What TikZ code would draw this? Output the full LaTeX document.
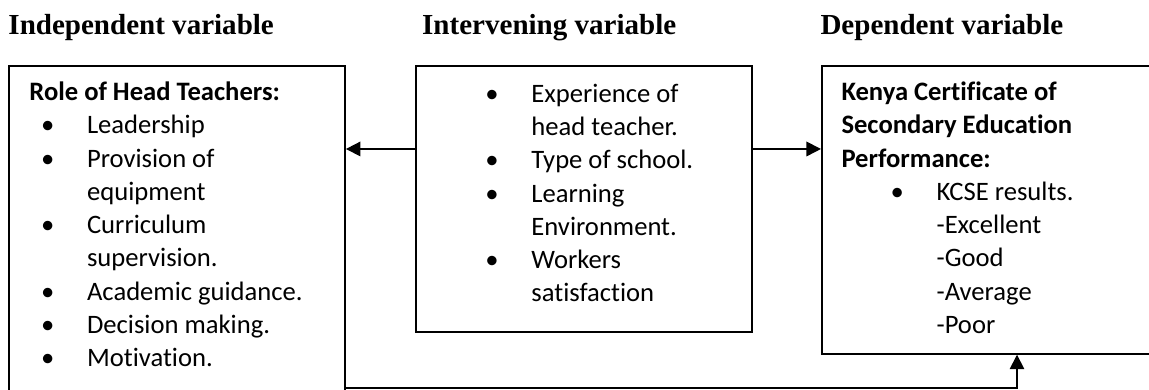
\documentclass[tikz,border=0pt]{standalone}
\usepackage{fontspec}
\setmainfont{Carlito}[Ligatures=NoCommon]
\newfontfamily\headfont{Liberation Serif}
\usetikzlibrary{arrows.meta}

% bullet with its gap to the item text
\newcommand{\bul}{\makebox[19pt][l]{\textbullet}}

\begin{document}
\begin{tikzpicture}[
    varbox/.style={draw, line width=0.8pt, inner sep=0pt, anchor=north west},
    head/.style={anchor=base west, inner sep=0pt, font=\headfont\bfseries\fontsize{12}{14}\selectfont},
    itemlist/.style={anchor=north west, inner sep=0pt, align=left, font=\fontsize{11}{13.76}\selectfont},
    link/.style={line width=0.7pt, -{Triangle[length=6pt,width=6pt]}}
]
    \useasboundingbox (0,0) rectangle (16.688,5.664);
    \clip (0,0) rectangle (16.688,5.664);

    % Titulos de las columnas
    \node[head] (indephead) at (0.116,5.156) {Independent variable};
    \node[head] (intervhead) at (6.125,5.156) {Intervening variable};
    \node[head] (dephead) at (11.910,5.156) {Dependent variable};

    % Cajas de las variables
    \node[varbox, minimum width=4.88cm, minimum height=5.22cm] (indep) at (0.116,4.720) {};
    \node[varbox, minimum width=4.88cm, minimum height=3.86cm] (interv) at (6.027,4.720) {};
    \node[varbox, minimum width=4.88cm, minimum height=4.18cm] (dep) at (11.924,4.720) {};

    % Contenido de las cajas
    \node[itemlist] (indeplist) at (0.421,4.551) {\strut\textbf{Role of Head Teachers:}\\
        \hspace*{4.8pt}\bul Leadership\\
        \hspace*{4.8pt}\bul Provision of\\
        \hspace*{23.8pt}equipment\\
        \hspace*{4.8pt}\bul Curriculum\\
        \hspace*{23.8pt}supervision.\\
        \hspace*{4.8pt}\bul Academic guidance.\\
        \hspace*{4.8pt}\bul Decision making.\\
        \hspace*{4.8pt}\bul Motivation.};

    \node[itemlist] (intervlist) at (7.044,4.526) {\strut\bul Experience of\\
        \hspace*{19pt}head teacher.\\
        \bul Type of school.\\
        \bul Learning\\
        \hspace*{19pt}Environment.\\
        \bul Workers\\
        \hspace*{19pt}satisfaction};

    \node[itemlist] (deplist) at (12.215,4.551) {\strut\textbf{Kenya Certificate of}\\
        \textbf{Secondary Education}\\
        \textbf{Performance:}\\
        \hspace*{20.3pt}\bul KCSE results.\\
        \hspace*{39.3pt}-Excellent\\
        \hspace*{39.3pt}-Good\\
        \hspace*{39.3pt}-Average\\
        \hspace*{39.3pt}-Poor};

    % Flechas entre cajas
    \coordinate (arrowrow) at (0,3.500);
    \draw[link] (interv.west |- arrowrow) -- (indep.east |- arrowrow);
    \draw[link] (interv.east |- arrowrow) -- (dep.west |- arrowrow);
    \draw[link] (indep.east |- 0,0.029) -| (14.771,0 |- dep.south);

\end{tikzpicture}
\end{document}
